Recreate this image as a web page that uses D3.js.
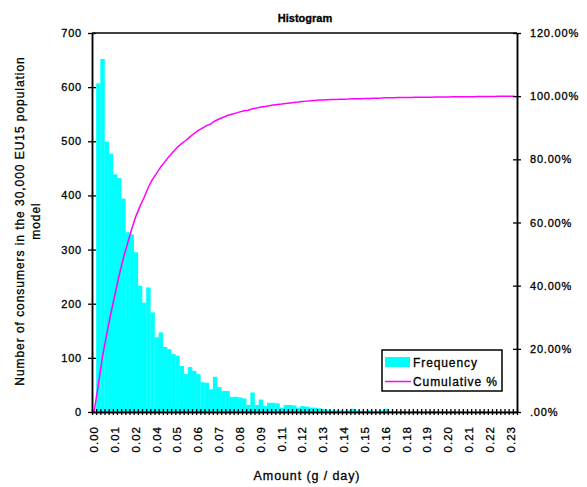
<!DOCTYPE html>
<html>
<head>
<meta charset="utf-8">
<script src="https://cdn.jsdelivr.net/npm/d3@7"></script>
<style>
  html, body { margin: 0; padding: 0; background: #fff; }
  svg { display: block; font-family: "Liberation Sans", Arial, sans-serif; }
  svg text { stroke: #000; stroke-width: 0.3px; }
</style>
</head>
<body>
<svg id="chart" width="587" height="487"></svg>
<script>
// Histogram bins (one category per bin); the axis shows every fifth bin label
const binTickLabels = ["0.00","0.01","0.02","0.04","0.05","0.06","0.07","0.08","0.09","0.11",
  "0.12","0.13","0.14","0.15","0.16","0.18","0.19","0.20","0.21","0.22","0.23"];
const labelEvery = 5;

// Number of consumers in each bin
const frequency = [
  0,607,652,499,477,439,432,394,332,328,
  295,233,202,230,184,138,147,120,116,107,
  104,85,70,83,76,70,55,54,42,65,
  46,39,39,28,28,27,25,13,36,13,
  23,11,17,17,16,8,13,13,12,8,
  11,10,8,8,7,5,4,3,3,3,
  2,3,6,3,2,2,3,2,2,3,
  6,2,2,1,2,1,1,2,1,1,
  1,2,1,1,1,1,2,1,1,1,
  1,1,1,2,1,1,1,1,1,1,
  1,1
];

// Cumulative share of consumers (%) up to each bin
const cumulativePct = [
  0,8.43,17.48,24.41,31.03,37.13,43.13,48.60,53.21,57.76,
  61.86,65.09,67.90,71.09,73.65,75.56,77.60,79.27,80.88,82.37,
  83.81,84.99,85.96,87.11,88.17,89.14,89.91,90.66,91.24,92.14,
  92.78,93.32,93.86,94.25,94.64,95.02,95.36,95.54,96.04,96.22,
  96.54,96.70,96.93,97.17,97.39,97.50,97.68,97.86,98.03,98.14,
  98.29,98.43,98.54,98.65,98.75,98.82,98.88,98.92,98.96,99.00,
  99.03,99.07,99.15,99.19,99.22,99.25,99.29,99.32,99.35,99.39,
  99.47,99.50,99.53,99.54,99.57,99.58,99.60,99.63,99.64,99.65,
  99.67,99.69,99.71,99.72,99.74,99.75,99.78,99.79,99.81,99.82,
  99.83,99.85,99.86,99.89,99.90,99.92,99.93,99.94,99.96,99.97,
  99.99,100.00
];

const leftTicks = [0,100,200,300,400,500,600,700];
const rightTicks = [0,20,40,60,80,100,120];
const rightTickLabels = [".00%","20.00%","40.00%","60.00%","80.00%","100.00%","120.00%"];

const svg = d3.select("#chart");
const plot = { left: 92, right: 517, top: 33, bottom: 412 };

const bins = d3.range(frequency.length);
const x = d3.scaleBand().domain(bins).range([plot.left, plot.right]).padding(0);
const xEdge = d3.scaleLinear().domain([0, bins.length]).range([plot.left, plot.right]);
const y = d3.scaleLinear().domain([0, 700]).range([plot.bottom, plot.top]);
const y2 = d3.scaleLinear().domain([0, 120]).range([plot.bottom, plot.top]);

// Bars
svg.append("g").selectAll("rect").data(bins).join("rect")
  .attr("x", d => x(d))
  .attr("width", x.bandwidth() + 0.3)
  .attr("y", d => y(frequency[d]))
  .attr("height", d => plot.bottom - y(frequency[d]))
  .attr("fill", "#00ffff");

// Cumulative line
const line = d3.line()
  .x(d => x(d) + x.bandwidth() / 2)
  .y(d => y2(cumulativePct[d]));
svg.append("path").datum(bins)
  .attr("d", line)
  .attr("fill", "none")
  .attr("stroke", "#ff00ff")
  .attr("stroke-width", 1.5);

// Plot frame top edge
svg.append("line")
  .attr("x1", plot.left).attr("x2", plot.right)
  .attr("y1", plot.top).attr("y2", plot.top)
  .attr("stroke", "#000").attr("stroke-width", 1.5);

function styleAxis(g) {
  g.selectAll(".domain").attr("stroke", "#000").attr("stroke-width", 1.5);
  g.selectAll(".tick line").attr("stroke", "#000").attr("stroke-width", 1.3);
  g.selectAll("text").attr("fill", "#000");
}

// Left axis (cross ticks)
svg.append("g").attr("transform", `translate(${plot.left},0)`)
  .call(d3.axisLeft(y).tickValues(leftTicks).tickSizeInner(4).tickSizeOuter(0).tickPadding(6))
  .call(styleAxis)
  .call(g => g.selectAll("text").attr("font-size", 11).attr("letter-spacing", 0.8));
svg.append("g").attr("transform", `translate(${plot.left},0)`)
  .call(d3.axisRight(y).tickValues(leftTicks).tickSizeInner(4).tickSizeOuter(0).tickFormat(""))
  .call(styleAxis);

// Right axis (cross ticks)
svg.append("g").attr("transform", `translate(${plot.right},0)`)
  .call(d3.axisRight(y2).tickValues(rightTicks).tickSizeInner(4).tickSizeOuter(0).tickPadding(9)
    .tickFormat((d, i) => rightTickLabels[i]))
  .call(styleAxis)
  .call(g => g.selectAll("text").attr("font-size", 11).attr("letter-spacing", 0.8));
svg.append("g").attr("transform", `translate(${plot.right},0)`)
  .call(d3.axisLeft(y2).tickValues(rightTicks).tickSizeInner(4).tickSizeOuter(0).tickFormat(""))
  .call(styleAxis);

// Bottom axis: tick crosses at each bin edge
svg.append("g").attr("transform", `translate(0,${plot.bottom})`)
  .call(d3.axisBottom(xEdge).tickValues(d3.range(bins.length + 1)).tickSizeInner(3).tickSizeOuter(0).tickFormat(""))
  .call(styleAxis);
svg.append("g").attr("transform", `translate(0,${plot.bottom})`)
  .call(d3.axisTop(xEdge).tickValues(d3.range(bins.length + 1)).tickSizeInner(3).tickSizeOuter(0).tickFormat(""))
  .call(styleAxis);

// Bottom axis labels, rotated
const labelBins = binTickLabels.map((_, i) => i * labelEvery);
svg.append("g").attr("transform", `translate(0,${plot.bottom})`)
  .call(d3.axisBottom(x).tickValues(labelBins).tickSize(0).tickFormat((d, i) => binTickLabels[i]))
  .call(g => g.select(".domain").remove())
  .call(g => g.selectAll("text")
    .attr("font-size", 11.5).attr("letter-spacing", 1).attr("fill", "#000")
    .attr("text-anchor", "end")
    .attr("dy", "0.35em")
    .attr("transform", "translate(0,14) rotate(-90)")
    .attr("x", 0).attr("y", 0));

// Titles
svg.append("text").attr("x", 305).attr("y", 22).attr("text-anchor", "middle")
  .attr("font-size", 11).attr("font-weight", "bold").attr("stroke-width", 0)
  .text("Histogram");

svg.append("text").attr("x", 307).attr("y", 480).attr("text-anchor", "middle")
  .attr("font-size", 12.5).attr("letter-spacing", 0.9)
  .text("Amount (g / day)");

const yTitle = svg.append("text").attr("text-anchor", "middle")
  .attr("transform", "translate(24,221) rotate(-90)")
  .attr("font-size", 12).attr("letter-spacing", 0.95);
yTitle.append("tspan").attr("x", 0).attr("y", 0)
  .text("Number of consumers in the 30,000 EU15 population");
yTitle.append("tspan").attr("x", 0).attr("y", 16).text("model");

// Legend
const lg = svg.append("g");
lg.append("rect").attr("x", 382).attr("y", 350).attr("width", 120).attr("height", 41)
  .attr("fill", "#fff").attr("stroke", "#000").attr("stroke-width", 1.5);
lg.append("rect").attr("x", 385).attr("y", 357).attr("width", 25).attr("height", 10)
  .attr("fill", "#00ffff");
lg.append("text").attr("x", 413).attr("y", 366.5).attr("font-size", 12).attr("letter-spacing", 0.9)
  .text("Frequency");
lg.append("line").attr("x1", 385).attr("x2", 411).attr("y1", 381.5).attr("y2", 381.5)
  .attr("stroke", "#ff00ff").attr("stroke-width", 1.5);
lg.append("text").attr("x", 413).attr("y", 386).attr("font-size", 12).attr("letter-spacing", 0.9)
  .text("Cumulative %");
</script>
</body>
</html>
